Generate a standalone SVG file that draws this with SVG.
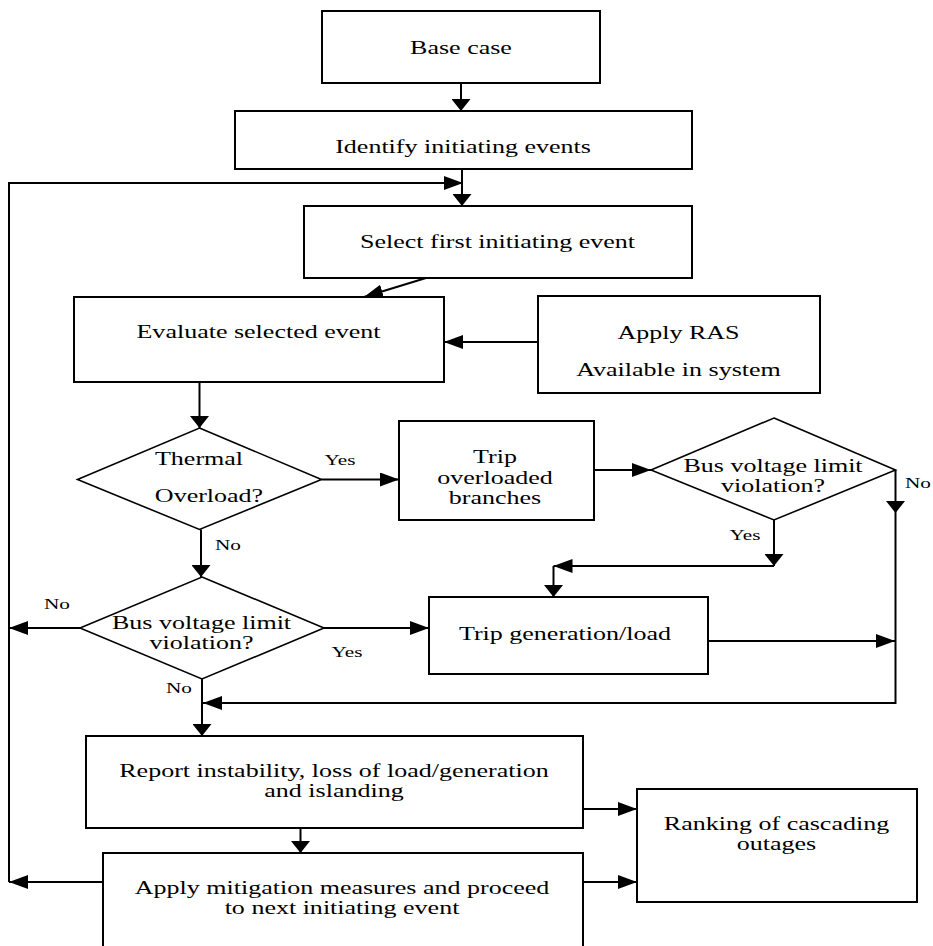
<svg xmlns="http://www.w3.org/2000/svg" width="933" height="946" viewBox="0 0 933 946">
<defs>
<style>
.box{fill:#fff;stroke:#000;stroke-width:2}
.dia{fill:#fff;stroke:#000;stroke-width:1.6}
.t{font-family:"Liberation Serif","Times New Roman",serif;font-size:19px;fill:#000;text-anchor:middle}
.l{font-family:"Liberation Serif","Times New Roman",serif;font-size:15.5px;fill:#000;text-anchor:middle}
.c{fill:none;stroke:#000;stroke-width:2}
.h{marker-end:url(#ah)}
.v{marker-end:url(#av)}
</style>
<marker id="ah" markerUnits="userSpaceOnUse" markerWidth="19" markerHeight="14" refX="19" refY="7" orient="auto">
<path d="M0,0 L19,7 L0,14 z" fill="#000"/>
</marker>
<marker id="av" markerUnits="userSpaceOnUse" markerWidth="12" markerHeight="19" refX="12" refY="9.5" orient="auto">
<path d="M0,0 L12,9.5 L0,19 z" fill="#000"/>
</marker>
</defs>
<rect width="933" height="946" fill="#fff"/>

<g id="connectors">
<line class="c v" x1="461" y1="83" x2="461" y2="111"/>
<line class="c v" x1="462" y1="169" x2="462" y2="206"/>
<line class="c h" x1="103" y1="882" x2="9" y2="882"/>
<polyline class="c h" points="9,882 9,183 463,183"/>
<line class="c h" x1="426" y1="278" x2="364" y2="297"/>
<line class="c h" x1="538" y1="342" x2="444" y2="342"/>
<line class="c v" x1="199.5" y1="382" x2="199.5" y2="428"/>
<line class="c h" x1="321.5" y1="479.5" x2="399" y2="479.5"/>
<line class="c h" x1="594" y1="470" x2="651" y2="470"/>
<line class="c v" x1="774" y1="520" x2="774" y2="566"/>
<line class="c h" x1="774" y1="566" x2="553.5" y2="566"/>
<line class="c v" x1="553.5" y1="566" x2="553.5" y2="597"/>
<line class="c v" x1="895.5" y1="470" x2="895.5" y2="513"/>
<polyline class="c h" points="895.5,513 895.5,703 203,703"/>
<line class="c h" x1="708" y1="641" x2="895" y2="641"/>
<line class="c v" x1="201" y1="529.5" x2="201" y2="577"/>
<line class="c h" x1="80" y1="628" x2="9" y2="628"/>
<line class="c h" x1="324" y1="628" x2="429" y2="628"/>
<line class="c v" x1="202" y1="679" x2="202" y2="736"/>
<line class="c h" x1="583" y1="809" x2="637" y2="809"/>
<line class="c v" x1="300.5" y1="828" x2="300.5" y2="853"/>
<line class="c h" x1="583" y1="882" x2="637" y2="882"/>
</g>

<g id="labels">
<text class="l" transform="translate(340,465) scale(1.37,1)">Yes</text>
<text class="l" transform="translate(228,550) scale(1.37,1)">No</text>
<text class="l" transform="translate(745,540) scale(1.37,1)">Yes</text>
<text class="l" transform="translate(918,488) scale(1.37,1)">No</text>
<text class="l" transform="translate(57,609) scale(1.37,1)">No</text>
<text class="l" transform="translate(347,657) scale(1.37,1)">Yes</text>
<text class="l" transform="translate(179,693) scale(1.37,1)">No</text>
</g>

<g id="base">
<rect class="box" x="322" y="11" width="278" height="72"/>
<text class="t" transform="translate(461,53.5) scale(1.37,1)">Base case</text>
</g>
<g id="identify">
<rect class="box" x="235" y="111" width="457" height="58"/>
<text class="t" transform="translate(463,153) scale(1.37,1)">Identify initiating events</text>
</g>
<g id="select">
<rect class="box" x="304" y="206" width="388" height="72"/>
<text class="t" transform="translate(497.5,248) scale(1.37,1)">Select first initiating event</text>
</g>
<g id="evaluate">
<rect class="box" x="74" y="297" width="370" height="85"/>
<text class="t" transform="translate(258.5,338) scale(1.37,1)">Evaluate selected event</text>
</g>
<g id="ras">
<rect class="box" x="538" y="296" width="282" height="97"/>
<text class="t" transform="translate(678.5,339) scale(1.37,1)">Apply RAS</text>
<text class="t" transform="translate(678.5,376) scale(1.37,1)">Available in system</text>
</g>
<g id="thermal">
<polygon class="dia" points="199.5,428 321.5,479.5 199.5,529.5 77.5,479.5"/>
<text class="t" transform="translate(199,465) scale(1.37,1)">Thermal</text>
<text class="t" transform="translate(209,502) scale(1.37,1)">Overload?</text>
</g>
<g id="trip-overloaded">
<rect class="box" x="399" y="421" width="195" height="99"/>
<text class="t" transform="translate(495,463) scale(1.37,1)">Trip</text>
<text class="t" transform="translate(495,483.5) scale(1.37,1)">overloaded</text>
<text class="t" transform="translate(495,503.5) scale(1.37,1)">branches</text>
</g>
<g id="bus-voltage-2">
<polygon class="dia" points="774,418 895.5,470 774,520 651,470"/>
<text class="t" transform="translate(773,471.5) scale(1.37,1)">Bus voltage limit</text>
<text class="t" transform="translate(773,491.5) scale(1.37,1)">violation?</text>
</g>
<g id="bus-voltage-1">
<polygon class="dia" points="202,577 324,628 202,679 80,628"/>
<text class="t" transform="translate(201.5,629) scale(1.37,1)">Bus voltage limit</text>
<text class="t" transform="translate(201.5,649) scale(1.37,1)">violation?</text>
</g>
<g id="trip-gen">
<rect class="box" x="429" y="597" width="279" height="77"/>
<text class="t" transform="translate(565,639.5) scale(1.37,1)">Trip generation/load</text>
</g>
<g id="report">
<rect class="box" x="86" y="736" width="497" height="92"/>
<text class="t" transform="translate(334,776.5) scale(1.37,1)">Report instability, loss of load/generation</text>
<text class="t" transform="translate(334,796.5) scale(1.37,1)">and islanding</text>
</g>
<g id="ranking">
<rect class="box" x="637" y="789" width="280" height="113"/>
<text class="t" transform="translate(776.5,830) scale(1.37,1)">Ranking of cascading</text>
<text class="t" transform="translate(776.5,850) scale(1.37,1)">outages</text>
</g>
<g id="mitigation">
<rect class="box" x="103" y="853" width="480" height="110"/>
<text class="t" transform="translate(342,893.5) scale(1.37,1)">Apply mitigation measures and proceed</text>
<text class="t" transform="translate(342,913.5) scale(1.37,1)">to next initiating event</text>
</g>
</svg>
